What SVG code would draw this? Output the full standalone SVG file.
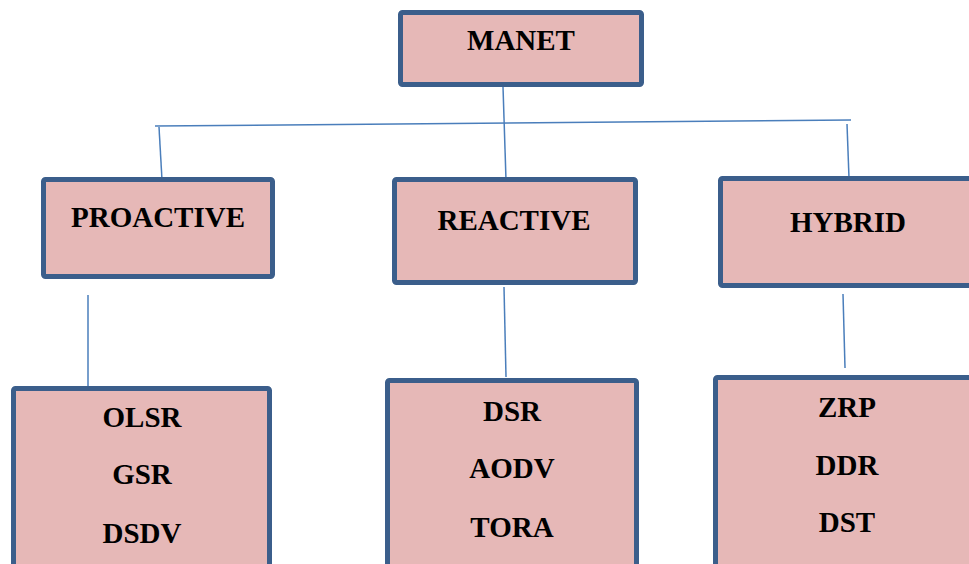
<svg xmlns="http://www.w3.org/2000/svg" width="969" height="564" viewBox="0 0 969 564">
  <style>
    .box { fill: #e6b8b7; stroke: #3b5e8b; stroke-width: 5; }
    .lbl { font-family: "Liberation Serif", "Times New Roman", serif; font-weight: bold; font-size: 29px; fill: #000; text-anchor: middle; }
    .conn { stroke: #4a7ebb; stroke-width: 1.5; fill: none; }
  </style>
  <rect width="969" height="564" fill="#ffffff"/>
  <g id="connectors">
    <line class="conn" x1="155" y1="126" x2="851" y2="120"/>
    <line class="conn" x1="503" y1="87" x2="506" y2="180"/>
    <line class="conn" x1="159" y1="127" x2="162" y2="180"/>
    <line class="conn" x1="847" y1="124" x2="849" y2="178"/>
    <line class="conn" x1="88" y1="295" x2="88" y2="386"/>
    <line class="conn" x1="504" y1="287" x2="506" y2="377"/>
    <line class="conn" x1="843" y1="294" x2="845" y2="368"/>
  </g>
  <g id="manet">
    <rect class="box" x="400.5" y="12.5" width="241" height="72" rx="2"/>
    <text class="lbl" x="521" y="50">MANET</text>
  </g>
  <g id="proactive">
    <rect class="box" x="43.5" y="179.5" width="229" height="97" rx="2"/>
    <text class="lbl" x="158" y="227">PROACTIVE</text>
  </g>
  <g id="reactive">
    <rect class="box" x="394.5" y="179.5" width="241" height="103" rx="2"/>
    <text class="lbl" x="514" y="230">REACTIVE</text>
  </g>
  <g id="hybrid">
    <rect class="box" x="720.5" y="178.5" width="260" height="107" rx="2"/>
    <text class="lbl" x="848" y="232">HYBRID</text>
  </g>
  <g id="proactive-protocols">
    <rect class="box" x="13.5" y="388.5" width="256" height="200" rx="2"/>
    <text class="lbl" x="142" y="427">OLSR</text>
    <text class="lbl" x="142" y="484">GSR</text>
    <text class="lbl" x="142" y="543">DSDV</text>
  </g>
  <g id="reactive-protocols">
    <rect class="box" x="387.5" y="380.5" width="249" height="200" rx="2"/>
    <text class="lbl" x="512" y="421">DSR</text>
    <text class="lbl" x="512" y="478">AODV</text>
    <text class="lbl" x="512" y="537">TORA</text>
  </g>
  <g id="hybrid-protocols">
    <rect class="box" x="715.5" y="377.5" width="270" height="200" rx="2"/>
    <text class="lbl" x="847" y="417">ZRP</text>
    <text class="lbl" x="847" y="475">DDR</text>
    <text class="lbl" x="847" y="532">DST</text>
  </g>
</svg>
